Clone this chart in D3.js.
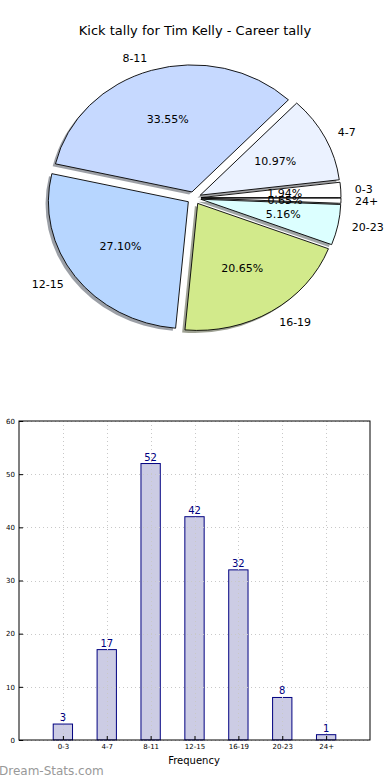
<!DOCTYPE html>
<html>
<head>
<meta charset="utf-8">
<script src="https://cdn.jsdelivr.net/npm/d3@7"></script>
<style>
  body { margin: 0; background: #fff; }
  svg { font-family: "DejaVu Sans", sans-serif; }
</style>
</head>
<body>
<svg id="chart" width="390" height="780"></svg>
<script>
const categories = ['0-3', '4-7', '8-11', '12-15', '16-19', '20-23', '24+'];
const kicks = [3, 17, 52, 42, 32, 8, 1];
const sliceColors = ['#ffffff', '#ebf2ff', '#c6d9ff', '#b7d6ff', '#d2ea8b', '#dcffff', '#ffffff'];
const yTicks = [0, 10, 20, 30, 40, 50, 60];

const svg = d3.select('#chart');
const total = d3.sum(kicks);

svg.append('text')
    .attr('x', 195).attr('y', 35)
    .attr('text-anchor', 'middle')
    .attr('font-size', 13)
    .text('Kick tally for Tim Kelly - Career tally');

// pie: matplotlib style, starts east, goes counterclockwise, elliptic axes
const cx = 194, cy = 198, rx = 140, ry = 127, explode = 0.05;

const pie = d3.pie().sort(null)
    .startAngle(Math.PI / 2)
    .endAngle(Math.PI / 2 - 2 * Math.PI);
const arcs = pie(kicks);
const unitArc = d3.arc().innerRadius(0).outerRadius(1);

const pieGroup = svg.append('g');

arcs.forEach((d, i) => {
    const m = (d.startAngle + d.endAngle) / 2;
    const dx = Math.sin(m), dy = -Math.cos(m);
    const ox = cx + explode * rx * dx, oy = cy + explode * ry * dy;
    const shade = d3.color(sliceColors[i]);
    const dark = d3.rgb(shade.r * 0.3, shade.g * 0.3, shade.b * 0.3);

    pieGroup.append('path')
        .attr('d', unitArc(d))
        .attr('transform', `translate(${ox - 2.8},${oy + 2.5}) scale(${rx},${ry})`)
        .attr('fill', dark)
        .attr('fill-opacity', 0.5)
        .attr('stroke', 'none');
    d.ox = ox; d.oy = oy; d.dx = dx; d.dy = dy;
});

arcs.forEach((d, i) => {
    pieGroup.append('path')
        .attr('d', unitArc(d))
        .attr('transform', `translate(${d.ox},${d.oy}) scale(${rx},${ry})`)
        .attr('fill', sliceColors[i])
        .attr('stroke', '#000')
        .attr('stroke-width', 0.9)
        .attr('vector-effect', 'non-scaling-stroke');
});

arcs.forEach((d, i) => {
    pieGroup.append('text')
        .attr('x', d.ox + 1.1 * rx * d.dx)
        .attr('y', d.oy + 1.1 * ry * d.dy)
        .attr('dy', '0.35em')
        .attr('text-anchor', d.dx > 0 ? 'start' : 'end')
        .attr('font-size', 11)
        .text(categories[i]);
    pieGroup.append('text')
        .attr('x', d.ox + 0.6 * rx * d.dx)
        .attr('y', d.oy + 0.6 * ry * d.dy)
        .attr('dy', '0.35em')
        .attr('text-anchor', 'middle')
        .attr('font-size', 11)
        .text((kicks[i] / total * 100).toFixed(2) + '%');
});

// bar chart
const plotLeft = 19, plotRight = 370, plotTop = 421, plotBottom = 740;
const x = d3.scaleLinear().domain([-1, categories.length]).range([plotLeft, plotRight]);
const y = d3.scaleLinear().domain([0, 60]).range([plotBottom, plotTop]);
const barW = 0.44;

const bars = svg.append('g');
bars.selectAll('rect')
    .data(kicks)
    .enter()
    .append('rect')
    .attr('x', (d, i) => x(i - barW / 2))
    .attr('y', d => y(d))
    .attr('width', x(barW) - x(0))
    .attr('height', d => y(0) - y(d))
    .attr('fill', '#ccccE4')
    .attr('stroke', '#000080')
    .attr('stroke-width', 1);

// grid over bars
const grid = svg.append('g')
    .attr('stroke', '#c8c8c8')
    .attr('stroke-width', 1)
    .attr('stroke-dasharray', '1,3');
grid.selectAll('.gx')
    .data(categories)
    .enter()
    .append('line')
    .attr('x1', (d, i) => Math.round(x(i)) + 0.5)
    .attr('x2', (d, i) => Math.round(x(i)) + 0.5)
    .attr('y1', plotTop).attr('y2', plotBottom);
grid.selectAll('.gy')
    .data(yTicks)
    .enter()
    .append('line')
    .attr('x1', plotLeft).attr('x2', plotRight)
    .attr('y1', d => Math.round(y(d)) + 0.5)
    .attr('y2', d => Math.round(y(d)) + 0.5);

svg.append('rect')
    .attr('x', plotLeft).attr('y', plotTop)
    .attr('width', plotRight - plotLeft).attr('height', plotBottom - plotTop)
    .attr('fill', 'none')
    .attr('stroke', '#000')
    .attr('stroke-width', 1);

// value labels
svg.append('g').selectAll('text')
    .data(kicks)
    .enter()
    .append('text')
    .attr('x', (d, i) => x(i))
    .attr('y', d => y(d) - 3)
    .attr('text-anchor', 'middle')
    .attr('font-size', 10)
    .attr('fill', '#000080')
    .text(d => d);

// axes
const yAxis = svg.append('g')
    .attr('transform', `translate(${plotLeft},0)`)
    .call(d3.axisLeft(y).tickValues(yTicks).tickSize(-4).tickPadding(4));
const xAxis = svg.append('g')
    .attr('transform', `translate(0,${plotBottom})`)
    .call(d3.axisBottom(x).tickValues(d3.range(categories.length))
        .tickFormat(i => categories[i]).tickSize(-4).tickPadding(4));
[yAxis, xAxis].forEach(g => {
    g.select('.domain').remove();
    g.selectAll('text').attr('font-size', 7).attr('font-family', '"DejaVu Sans", sans-serif');
    g.selectAll('line').attr('stroke', '#000');
});

svg.append('text')
    .attr('x', 194).attr('y', 764)
    .attr('text-anchor', 'middle')
    .attr('font-size', 10)
    .text('Frequency');

svg.append('text')
    .attr('x', -1).attr('y', 775)
    .attr('font-size', 12)
    .attr('fill', '#999')
    .text('Dream-Stats.com');
</script>
</body>
</html>
